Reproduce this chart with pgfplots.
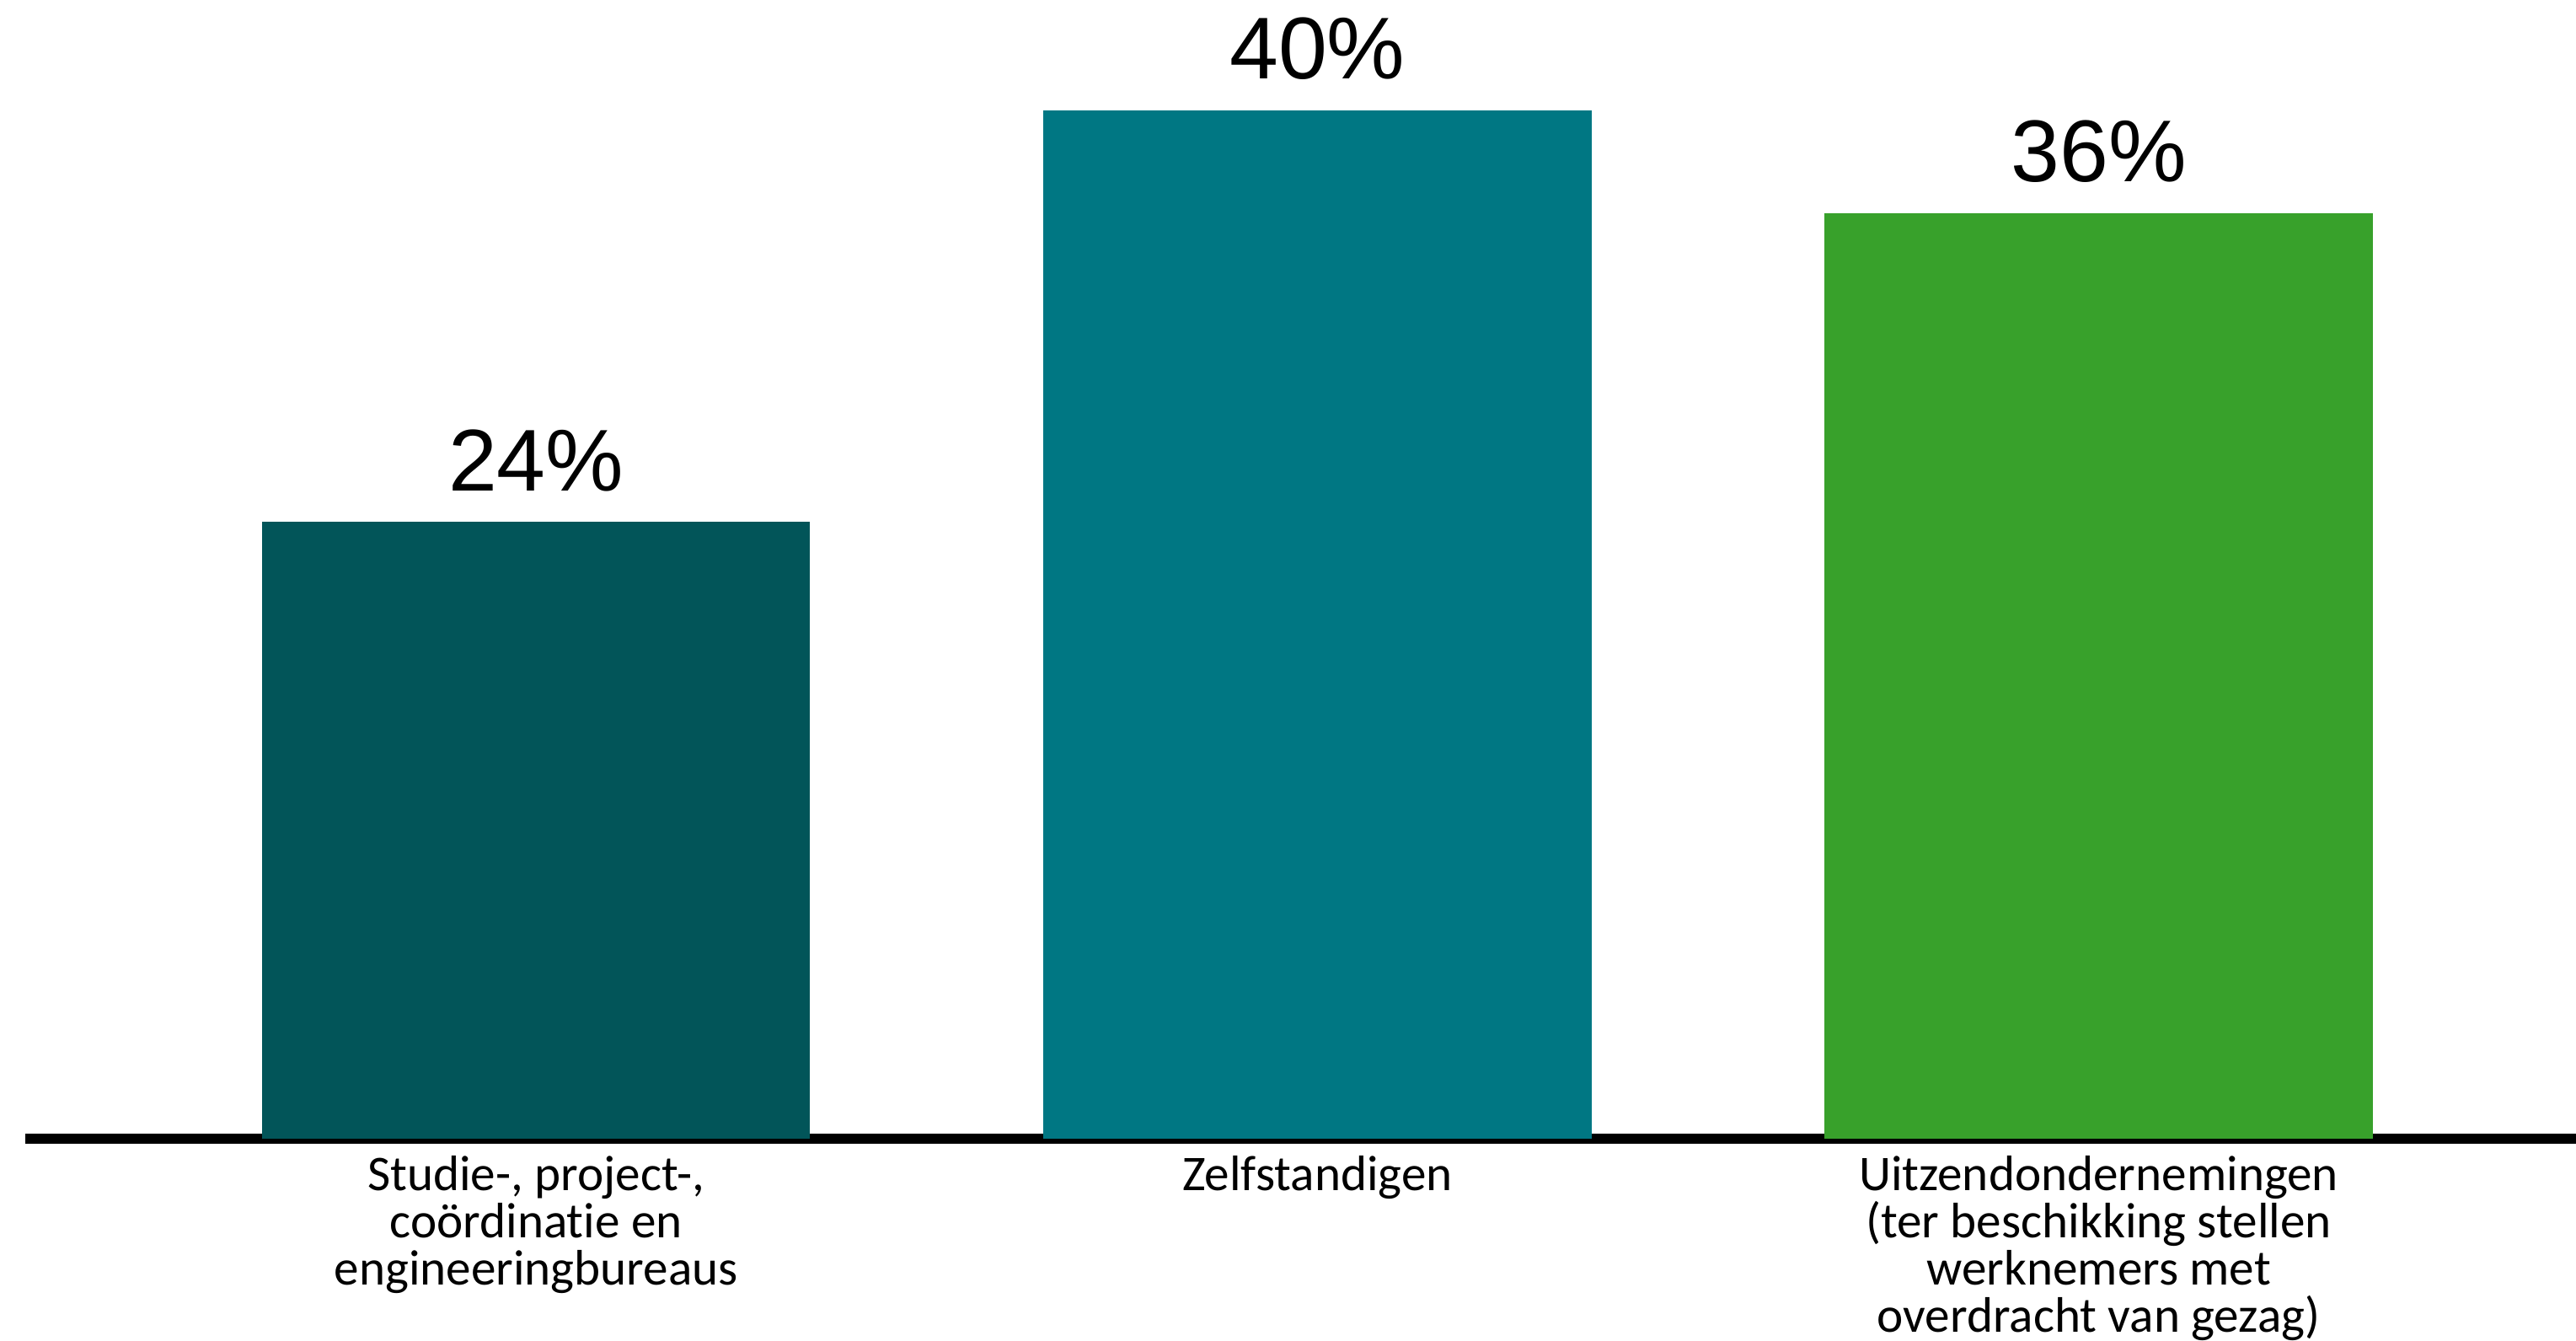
\documentclass[border=0pt]{standalone}
\usepackage{fontspec}
\setmainfont{Carlito}[Ligatures=NoCommon]
\newfontfamily\valfont{Liberation Sans}
\usepackage{pgfplots}
\pgfplotsset{compat=1.18}

\definecolor{tealdark}{RGB}{2,85,89}
\definecolor{tealmid}{RGB}{0,119,131}
\definecolor{grass}{RGB}{56,161,43}

\begin{document}
\begin{tikzpicture}
	\begin{axis}[
		name=ax,
		scale only axis,
		width=465.4pt,
		height=207.7pt,
		ybar,
		bar width=100pt,
		bar shift=0pt,
		xmin=-0.654, xmax=2.611,
		ymin=0, ymax=44.3,
		axis x line=bottom,
		axis y line=none,
		x axis line style={-, line width=1.85pt, black},
		xtick={0,1,2},
		major tick length=0pt,
		ytick=\empty,
		xticklabels={{Studie-, project-,\\co\"ordinatie en\\engineeringbureaus},
			{Zelfstandigen},
			{Uitzendondernemingen\\(ter beschikking stellen\\werknemers met\\overdracht van gezag)}},
		xticklabel style={align=center, anchor=north, inner sep=0pt, yshift=-3pt,
			font=\fontsize{9.1}{8.6}\selectfont},
		point meta=explicit symbolic,
		nodes near coords,
		every node near coord/.append style={font=\valfont\fontsize{16}{18}\selectfont,
			anchor=south, inner sep=0pt, yshift=5.4pt, black},
	]

	% Studie-, project-, ...
	\addplot[fill=tealdark, draw=none] coordinates {(0,24) [24\%]};
	% Zelfstandigen
	\addplot[fill=tealmid, draw=none] coordinates {(1,40) [40\%]};
	% Uitzendondernemingen
	\addplot[fill=grass, draw=none] coordinates {(2,36) [36\%]};

	\end{axis}
	\pgfresetboundingbox
	\path[use as bounding box] ([xshift=-4.6pt,yshift=-36.9pt]ax.south west) rectangle (ax.north east);
\end{tikzpicture}
\end{document}
